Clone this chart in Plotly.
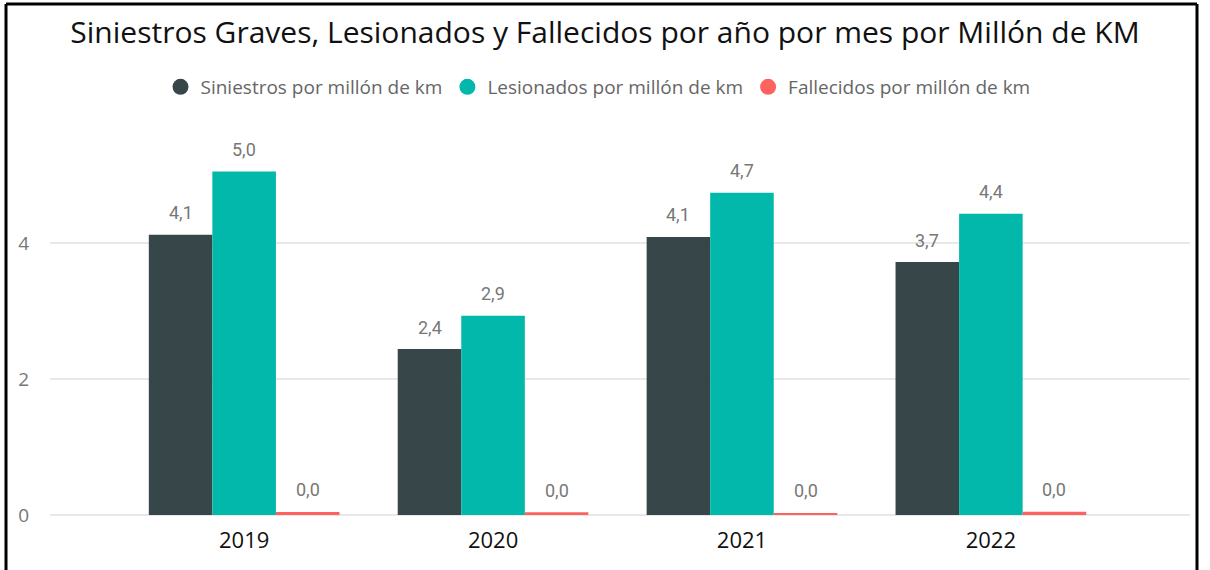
import plotly.graph_objects as go

years = ["2019", "2020", "2021", "2022"]
siniestros = [4.12, 2.44, 4.09, 3.72]
lesionados = [5.05, 2.93, 4.74, 4.43]
fallecidos = [0.045, 0.04, 0.03, 0.048]

names = ["Siniestros por millón de km", "Lesionados por millón de km", "Fallecidos por millón de km"]
colors = ["#374649", "#01B8AA", "#FD625E"]
series = [siniestros, lesionados, fallecidos]

L, R, T, B = 50, 20, 125, 55
W, H = 1210, 570
pw, ph = W - L - R, H - T - B
X_RANGE = [-0.78, 3.8]
unit_px = pw / (X_RANGE[1] - X_RANGE[0])
BARGAP = 0.234
bar_px = unit_px * (1 - BARGAP) / 3

fig = go.Figure()
for i, (name, color, vals) in enumerate(zip(names, colors, series)):
    fig.add_trace(go.Bar(
        x=years, y=vals, name=name, marker_color=color, marker_line_width=0,
        showlegend=False, hoverinfo="x+y",
    ))
    for j, v in enumerate(vals):
        fig.add_annotation(
            x=j, y=v, xref="x", yref="y", text=f"{v:.1f}".replace(".", ","), showarrow=False,
            xshift=(i - 1) * bar_px, yshift=22, yanchor="middle",
            font=dict(family="Roboto", size=18, color="#777777"),
        )
for name, color in zip(names, colors):
    fig.add_trace(go.Scatter(
        x=[None], y=[None], mode="markers", name=name,
        marker=dict(symbol="circle", size=18, color=color), showlegend=True,
    ))

def px_x(p):
    return (p - L) / pw

def px_y(p):
    return (H - B - p) / ph

line = dict(color="black", width=3)
fig.add_shape(type="line", xref="paper", yref="paper", x0=px_x(6), x1=px_x(1197), y0=px_y(4), y1=px_y(4), line=line)
fig.add_shape(type="line", xref="paper", yref="paper", x0=px_x(6), x1=px_x(6), y0=px_y(4), y1=px_y(600), line=line)
fig.add_shape(type="line", xref="paper", yref="paper", x0=px_x(1197), x1=px_x(1197), y0=px_y(4), y1=px_y(600), line=line)

fig.update_layout(
    width=W, height=H,
    margin=dict(l=L, r=R, t=T, b=B),
    paper_bgcolor="white", plot_bgcolor="white",
    separators=",.",
    barmode="group", bargap=BARGAP, bargroupgap=0,
    title=dict(text="Siniestros Graves, Lesionados y Fallecidos por año por mes por Millón de KM",
               x=0.5, xref="container", xanchor="center", y=1 - 32 / H, yref="container", yanchor="middle",
               font=dict(family="Open Sans", size=30, color="#111111")),
    legend=dict(orientation="h", x=598 / W, xref="container", xanchor="center",
                y=1 - 87 / H, yref="container", yanchor="middle",
                font=dict(family="Open Sans", size=19, color="#666666"),
                itemsizing="trace", tracegroupgap=0, itemwidth=30),
    xaxis=dict(type="category", range=X_RANGE, showgrid=False, showline=False, ticks="", ticklabelstandoff=10,
               tickfont=dict(family="Open Sans", size=22, color="#111111")),
    yaxis=dict(range=[0, ph / 68], tickvals=[0, 2, 4], showgrid=True,
               gridcolor="#e8e8e8", gridwidth=1.5, zeroline=True, zerolinecolor="#e8e8e8", zerolinewidth=1.5,
               showline=False, ticks="", ticklabelstandoff=20,
               tickfont=dict(family="Open Sans", size=19, color="#777777")),
)

fig.write_html("out.html", config={"displayModeBar": False},
               post_script="document.body.style.margin='0';document.body.style.padding='0';")
